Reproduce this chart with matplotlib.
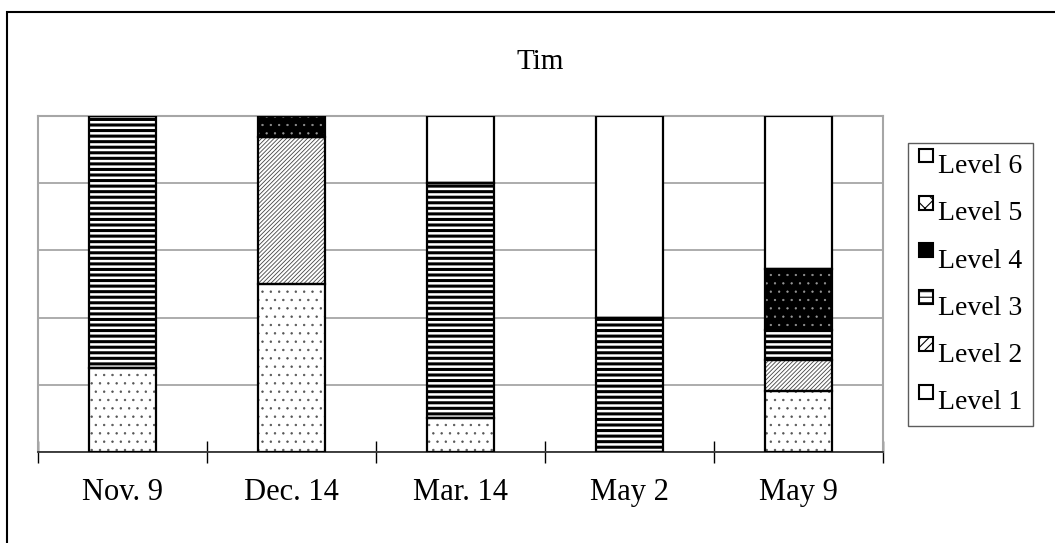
import matplotlib.pyplot as plt
from matplotlib.patches import Patch, Rectangle
from matplotlib.legend_handler import HandlerPatch
import numpy as np

plt.rcParams['font.family'] = ['Liberation Serif', 'DejaVu Serif']
plt.rcParams['hatch.linewidth'] = 0.8

# percent of sessions at each level, per date
dates = ["Nov. 9", "Dec. 14", "Mar. 14", "May 2", "May 9"]
level1 = [25.0, 50.0, 10.0, 0.0, 18.18]
level2 = [0.0, 43.75, 0.0, 0.0, 9.09]
level3 = [75.0, 0.0, 70.0, 40.0, 9.09]
level4 = [0.0, 6.25, 0.0, 0.0, 18.18]
level5 = [0.0, 0.0, 0.0, 0.0, 0.0]
level6 = [0.0, 0.0, 20.0, 60.0, 45.46]
level_names = ["Level 1", "Level 2", "Level 3", "Level 4", "Level 5", "Level 6"]

# (face, hatch, hatch colour, hatch line width)
styles = [
    ("white", "..", "#555555", 0.5),
    ("white", "////////", "#444444", 0.6),
    ("white", "---", "black", 2.2),
    ("black", "..", "#999999", 0.4),
    ("white", "xx", "black", 0.8),
    ("white", "", "white", 0.8),
]

fig = plt.figure(figsize=(10.55, 5.43), dpi=100)
ax = fig.add_axes([38 / 1055, 1 - 452 / 543, (883 - 38) / 1055, (452 - 116) / 543])

x = np.arange(len(dates))
width = 0.4
bottom = np.zeros(len(dates))
series = [level1, level2, level3, level4, level5, level6]
for vals, (face, hatch, hcol, hlw) in zip(series, styles):
    vals = np.array(vals)
    fill = ax.bar(x, vals, width, bottom=bottom, color=face, edgecolor=hcol,
                  hatch=hatch, linewidth=0, zorder=2)
    for p in fill:
        if hasattr(p, "set_hatch_linewidth"):
            p.set_hatch_linewidth(hlw)
    ax.bar(x, vals, width, bottom=bottom, fill=False, edgecolor="black",
           linewidth=1.6, zorder=3)
    bottom += vals

ax.set_xlim(-0.5, len(dates) - 0.5)
ax.set_ylim(0, 100)
ax.set_yticks(np.arange(0, 101, 20))
ax.tick_params(axis="y", length=0, labelleft=False)
ax.yaxis.grid(True, color="#a6a6a6", linewidth=1.3)
ax.set_axisbelow(True)

ax.set_xticks(np.arange(-0.5, len(dates), 1.0))
ax.set_xticklabels([])
ax.tick_params(axis="x", which="major", direction="inout", length=16, width=1.0)
ax.set_xticks(x, minor=True)
ax.set_xticklabels(dates, minor=True, fontsize=22)
ax.tick_params(axis="x", which="minor", length=0, pad=19)

for side in ["left", "top", "right"]:
    ax.spines[side].set_color("#a6a6a6")
    ax.spines[side].set_linewidth(1.5)
ax.spines["bottom"].set_color("#333333")
ax.spines["bottom"].set_linewidth(1.3)

fig.text(540 / 1055, 1 - 69 / 543, "Tim", ha="center", va="baseline", fontsize=21)


def raised_box(legend, orig_handle, xdescent, ydescent, width, height, fontsize):
    # small square key sitting a bit above the text middle
    side = min(width, height)
    return Rectangle((-xdescent, -ydescent + height * 0.55), side, side)


handles = []
for name, (face, hatch, hcol, hlw) in zip(level_names, styles):
    if face == "black":
        handles.append(Patch(facecolor="black", edgecolor="black", linewidth=1.5, label=name))
    else:
        handles.append(Patch(facecolor="white", edgecolor="black",
                             hatch=hatch.replace("..", ".").replace("////////", "////"),
                             linewidth=1.5, label=name))
leg = fig.legend(handles[::-1], level_names[::-1], loc="upper left",
                 bbox_to_anchor=(908 / 1055, 1 - 143 / 543), borderaxespad=0,
                 fontsize=20, frameon=True, fancybox=False, edgecolor="#333333",
                 handlelength=0.5, handleheight=0.45, handletextpad=0.18,
                 labelspacing=0.8, borderpad=0.4,
                 handler_map={Patch: HandlerPatch(patch_func=raised_box)})
leg.get_frame().set_linewidth(1.0)

fig.add_artist(Rectangle((7 / 1055, -0.1), 1.2, 1.1 - 12 / 543, transform=fig.transFigure,
                         fill=False, edgecolor="black", linewidth=1.5))

fig.savefig("out.png", dpi=100)
